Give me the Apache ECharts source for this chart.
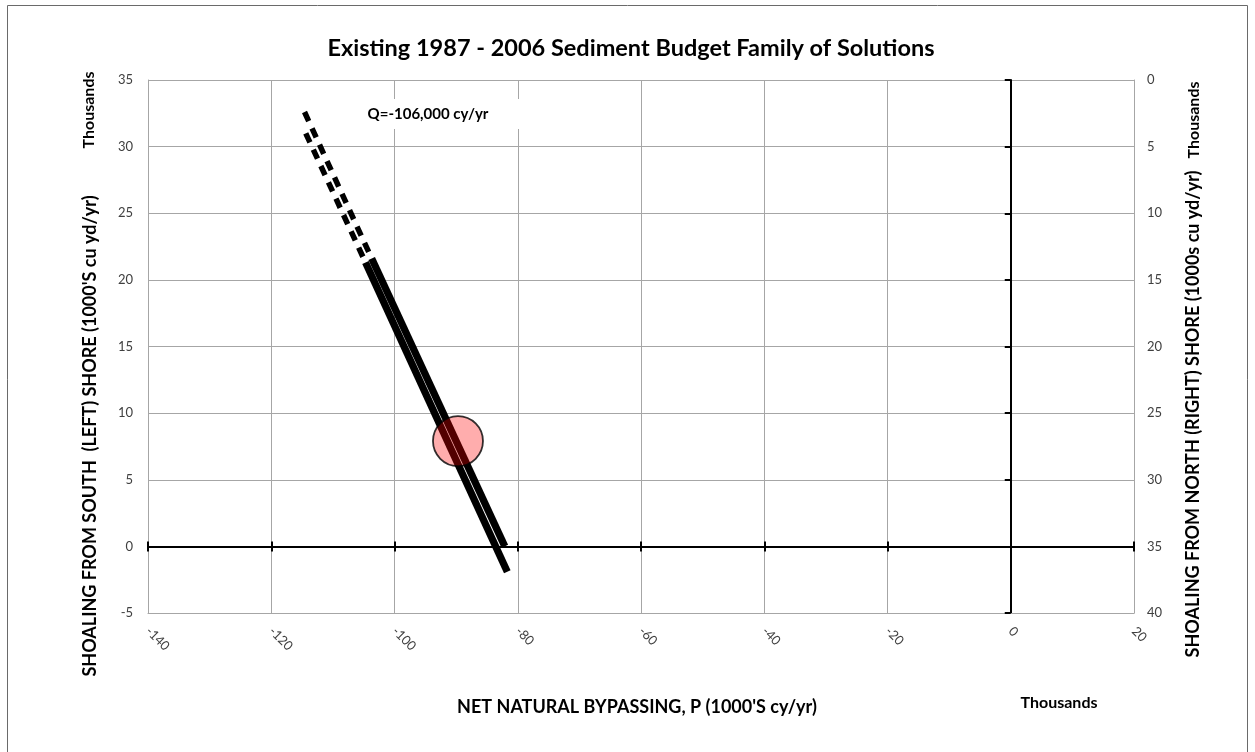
<!DOCTYPE html>
<html>
<head>
<meta charset="utf-8">
<script src="https://cdn.jsdelivr.net/npm/echarts@6/dist/echarts.min.js"></script>
<style>
html,body{margin:0;padding:0;background:#fff;}
#chart{width:1255px;height:752px;}
</style>
</head>
<body>
<div id="chart"></div>
<script>
// ---- data ----
var titleText = 'Existing 1987 - 2006 Sediment Budget Family of Solutions';
var xAxisTitle = "NET NATURAL BYPASSING, P (1000'S cy/yr)";
var leftAxisTitle = "SHOALING FROM SOUTH  (LEFT) SHORE (1000'S cu yd/yr)";
var rightAxisTitle = 'SHOALING FROM NORTH (RIGHT) SHORE (1000s cu yd/yr)';
var unitsText = 'Thousands';
var qLabel = 'Q=-106,000 cy/yr';

var xRange = [-140, 20];      // thousands cy/yr
var leftRange = [-5, 35];     // thousands cu yd/yr
var rightRange = [0, 40];     // inverted

// two parallel solution strips (dashed upper part, solid lower part)
var stripA_dashed = [[-114.4, 31.0], [-104.7, 21.3]];
var stripA_solid  = [[-104.7, 21.3], [-81.7, -1.9]];
var stripB_dashed = [[-114.6, 32.6], [-103.7, 21.6]];
var stripB_solid  = [[-103.7, 21.6], [-82.1, 0.0]];
var selectedPoint = [[-89.7, 7.9]];

var chart = echarts.init(document.getElementById('chart'));
var FONT = 'Lato, "Open Sans", sans-serif';
var gridColor = '#a6a6a6';
var labelColor = '#404040';

function strip(data, dashed, width) {
  return {
    type: 'line', data: data, xAxisIndex: 0, yAxisIndex: 0,
    showSymbol: false, symbol: 'none', silent: true, animation: false,
    lineStyle: {color: '#000', width: width, type: dashed ? [10, 8] : 'solid', cap: 'butt'},
    z: 3
  };
}

var option = {
  animation: false,
  grid: {left: 148, top: 80, width: 986, height: 533, containLabel: false},
  xAxis: [
    { // frame / labels
      type: 'value', min: xRange[0], max: xRange[1], interval: 20, position: 'bottom',
      axisLine: {show: true, onZero: false, lineStyle: {color: gridColor, width: 1}},
      axisTick: {show: false},
      splitLine: {show: true, lineStyle: {color: gridColor, width: 1}},
      axisLabel: {rotate: -45, margin: 16, color: labelColor, fontSize: 13, fontFamily: FONT}
    },
    { // zero line, ticks downward
      type: 'value', min: xRange[0], max: xRange[1], interval: 20, position: 'bottom',
      axisLine: {show: true, onZero: true, onZeroAxisIndex: 0, lineStyle: {color: '#000', width: 2}},
      axisTick: {show: true, length: 5, lineStyle: {color: '#000', width: 2}},
      axisLabel: {show: false}, splitLine: {show: false}
    },
    { // zero line, ticks upward
      type: 'value', min: xRange[0], max: xRange[1], interval: 20, position: 'top',
      axisLine: {show: true, onZero: true, onZeroAxisIndex: 0, lineStyle: {color: '#000', width: 2}},
      axisTick: {show: true, length: 5, lineStyle: {color: '#000', width: 2}},
      axisLabel: {show: false}, splitLine: {show: false}
    }
  ],
  yAxis: [
    {
      type: 'value', min: leftRange[0], max: leftRange[1], interval: 5, position: 'left',
      axisLine: {show: true, onZero: false, lineStyle: {color: gridColor, width: 1}},
      axisTick: {show: false},
      splitLine: {show: true, lineStyle: {color: gridColor, width: 1}},
      axisLabel: {margin: 15, color: labelColor, fontSize: 13, fontFamily: FONT}
    },
    {
      type: 'value', min: rightRange[0], max: rightRange[1], interval: 5, position: 'right', inverse: true,
      axisLine: {show: true, onZero: false, lineStyle: {color: gridColor, width: 1}},
      axisTick: {show: false},
      splitLine: {show: false},
      axisLabel: {margin: 13, color: labelColor, fontSize: 13, fontFamily: FONT}
    },
    { // vertical zero axis
      type: 'value', min: leftRange[0], max: leftRange[1], interval: 5, position: 'left',
      axisLine: {show: true, onZero: true, onZeroAxisIndex: 0, lineStyle: {color: '#000', width: 2}},
      axisTick: {show: true, length: 6, lineStyle: {color: '#000', width: 2}},
      axisLabel: {show: false}, splitLine: {show: false}
    }
  ],
  series: [
    strip(stripA_dashed, true, 5.5),
    strip(stripA_solid, false, 7.2),
    strip(stripB_dashed, true, 5.5),
    strip(stripB_solid, false, 7.2),
    {
      type: 'scatter', data: selectedPoint, xAxisIndex: 0, yAxisIndex: 0,
      symbol: 'circle', symbolSize: 50, silent: true, z: 5,
      itemStyle: {color: 'rgba(255,0,0,0.4)', borderColor: '#000', borderWidth: 1.8}
    }
  ],
  graphic: [
    {type: 'rect', shape: {x: 7.5, y: 5.5, width: 1240, height: 760}, style: {fill: 'none', stroke: '#6a6a6a', lineWidth: 1}, z: 0, silent: true},
    {type: 'rect', shape: {x: 345, y: 99, width: 190, height: 30}, style: {fill: '#fff'}, z: 10, silent: true},
    {type: 'text', x: 428, y: 114, z: 11, style: {text: qLabel, font: 'bold 15px ' + FONT, fill: '#000', align: 'center', verticalAlign: 'middle'}},
    {type: 'text', x: 631, y: 48, z: 11, style: {text: titleText, font: 'bold 23.5px ' + FONT, fill: '#000', align: 'center', verticalAlign: 'middle'}},
    {type: 'text', x: 637, y: 707, z: 11, style: {text: xAxisTitle, font: 'bold 18px ' + FONT, fill: '#000', align: 'center', verticalAlign: 'middle'}},
    {type: 'text', x: 1059, y: 703, z: 11, style: {text: unitsText, font: 'bold 16px ' + FONT, fill: '#000', align: 'center', verticalAlign: 'middle'}},
    {type: 'text', x: 90, y: 436, rotation: Math.PI / 2, z: 11, style: {text: leftAxisTitle, font: 'bold 18px ' + FONT, fill: '#000', align: 'center', verticalAlign: 'middle'}},
    {type: 'text', x: 89, y: 110, rotation: Math.PI / 2, z: 11, style: {text: unitsText, font: 'bold 16px ' + FONT, fill: '#000', align: 'center', verticalAlign: 'middle'}},
    {type: 'text', x: 1193, y: 414, rotation: Math.PI / 2, z: 11, style: {text: rightAxisTitle, font: 'bold 18px ' + FONT, fill: '#000', align: 'center', verticalAlign: 'middle'}},
    {type: 'text', x: 1194, y: 120, rotation: Math.PI / 2, z: 11, style: {text: unitsText, font: 'bold 16px ' + FONT, fill: '#000', align: 'center', verticalAlign: 'middle'}}
  ]
};
chart.setOption(option);
</script>
</body>
</html>
